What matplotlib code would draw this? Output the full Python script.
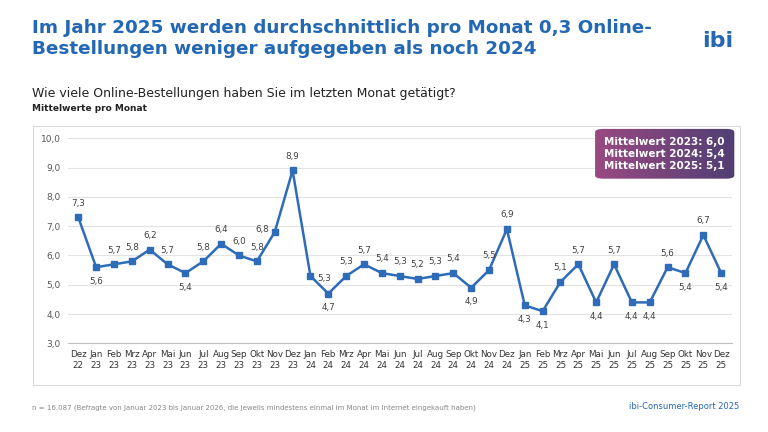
import numpy as np
import matplotlib.pyplot as plt
from matplotlib.patches import FancyBboxPatch, Rectangle
from matplotlib.colors import LinearSegmentedColormap

months = ["Dez", "Jan", "Feb", "Mrz", "Apr", "Mai", "Jun", "Jul", "Aug", "Sep", "Okt", "Nov"] * 3 + ["Dez"]
years = ["22"] + ["23"] * 12 + ["24"] * 12 + ["25"] * 12
values = [7.3, 5.6, 5.7, 5.8, 6.2, 5.7, 5.4, 5.8, 6.4, 6.0, 5.8, 6.8, 8.9,
          5.3, 4.7, 5.3, 5.7, 5.4, 5.3, 5.2, 5.3, 5.4, 4.9, 5.5, 6.9,
          4.3, 4.1, 5.1, 5.7, 4.4, 5.7, 4.4, 4.4, 5.6, 5.4, 6.7, 5.4]
# label placement: 'a' above, 'b' below, 'r' right, 'l' left
placement = ["a", "b", "a", "a", "a", "a", "b", "a", "a", "a", "a", "l", "a",
             "r", "b", "a", "a", "a", "a", "a", "a", "a", "b", "a", "a",
             "b", "b", "a", "a", "b", "a", "b", "b", "a", "b", "a", "b"]
ticklabels = [f"{m}\n{y}" for m, y in zip(months, years)]

blue = "#2e6bb8"
fig = plt.figure(figsize=(7.68, 4.32), dpi=100)
fig.patch.set_facecolor("white")

fig.text(0.042, 0.955, "Im Jahr 2025 werden durchschnittlich pro Monat 0,3 Online-\nBestellungen weniger aufgegeben als noch 2024",
         fontsize=13.2, fontweight="bold", color="#2468b4", va="top", linespacing=1.15)
fig.text(0.935, 0.905, "ibi", fontsize=16, fontweight="bold", color="#2468b4", ha="center", va="center")
fig.text(0.042, 0.775, "Wie viele Online-Bestellungen haben Sie im letzten Monat getätigt?", fontsize=9, color="#222222")
fig.text(0.042, 0.743, "Mittelwerte pro Monat", fontsize=6.5, fontweight="bold", color="#222222")
fig.text(0.042, 0.053, "n = 16.087 (Befragte von Januar 2023 bis Januar 2026, die jeweils mindestens einmal im Monat im Internet eingekauft haben)",
         fontsize=5, color="#888888")
fig.text(0.962, 0.053, "ibi-Consumer-Report 2025", fontsize=6, color="#2468b4", ha="right")

fig.patches.append(Rectangle((0.043, 0.108), 0.92, 0.6, transform=fig.transFigure,
                             fill=False, edgecolor="#d9d9d9", lw=0.8))

ax = fig.add_axes([0.088, 0.205, 0.865, 0.475])
x = np.arange(len(values))
ax.plot(x, values, color=blue, lw=1.8, marker="s", ms=4.5)
ax.set_ylim(3, 10)
ax.set_xlim(-0.6, len(values) - 0.4)
ax.set_yticks(np.arange(3, 10.5, 1))
ax.set_yticklabels([f"{v:.1f}".replace(".", ",") for v in np.arange(3, 10.5, 1)], fontsize=6.5, color="#595959")
ax.set_xticks(x)
ax.set_xticklabels(ticklabels, fontsize=6.3, color="#333333", linespacing=1.3)
ax.grid(axis="y", color="#e3e3e3", lw=0.8)
ax.set_axisbelow(True)
for s in ["top", "right", "left"]:
    ax.spines[s].set_visible(False)
ax.spines["bottom"].set_color("#bfbfbf")
ax.tick_params(length=0, pad=5)

offsets = {"a": (0, 7, "center", "bottom"), "b": (0, -7, "center", "top"),
           "r": (5, -2, "left", "center"), "l": (-4, 2, "right", "center")}
for xi, v, p in zip(x, values, placement):
    dx, dy, ha, va = offsets[p]
    ax.annotate(f"{v:.1f}".replace(".", ","), (xi, v), xytext=(dx, dy), textcoords="offset points",
                ha=ha, va=va, fontsize=6.3, color="#404040")

# mean box with gradient
bax = fig.add_axes([0.773, 0.584, 0.185, 0.12])
grad = np.linspace(0, 1, 256).reshape(1, -1)
cmap = LinearSegmentedColormap.from_list("g", ["#9a4a82", "#4f3f74"])
im = bax.imshow(grad, aspect="auto", cmap=cmap, extent=[0, 1, 0, 1])
clip = FancyBboxPatch((0.01, 0.02), 0.98, 0.96, boxstyle="round,pad=0,rounding_size=0.06",
                      transform=bax.transAxes, facecolor="none", edgecolor="none")
bax.add_patch(clip)
im.set_clip_path(clip)
bax.axis("off")
bax.text(0.5, 0.5, "Mittelwert 2023: 6,0\nMittelwert 2024: 5,4\nMittelwert 2025: 5,1",
         color="white", fontsize=7.5, fontweight="bold", ha="center", va="center", linespacing=1.25)

fig.savefig("out.png", dpi=100)
